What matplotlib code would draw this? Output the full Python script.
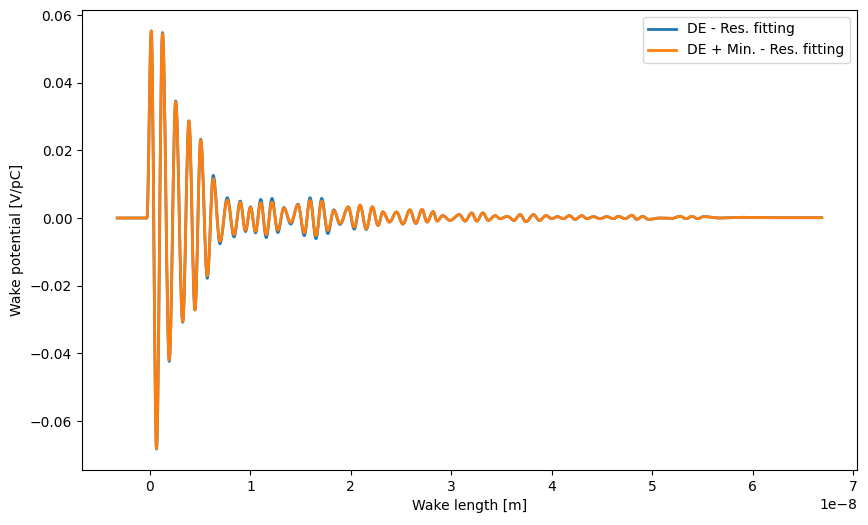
import matplotlib
matplotlib.use("Agg")
import matplotlib.pyplot as plt
from matplotlib.path import Path
from matplotlib.patches import PathPatch
from matplotlib.lines import Line2D
import numpy as np

# wake length at the turning points of the curve, in units of 1e-8 m
wake_len = [-0.326, -0.030, 0.013, 0.065, 0.125, 0.192, 0.256, 0.326, 0.388, 0.448,
            0.505, 0.571, 0.630, 0.697, 0.770, 0.837, 0.899, 0.951, 1.001, 1.051,
            1.103, 1.158, 1.215, 1.273, 1.333, 1.402, 1.474, 1.537, 1.594, 1.653,
            1.710, 1.771, 1.831, 1.892, 1.975, 2.034, 2.092, 2.154, 2.214, 2.271,
            2.319, 2.385, 2.455, 2.518, 2.588, 2.647, 2.709, 2.759, 2.819, 2.859,
            2.915, 2.988, 3.081, 3.137, 3.204, 3.254, 3.314, 3.370, 3.436, 3.486,
            3.559, 3.625, 3.685, 3.745, 3.818, 3.878, 3.944, 4.001, 4.057, 4.117,
            4.176, 4.233, 4.300, 4.350, 4.415, 4.482, 4.549, 4.615, 4.664, 4.731,
            4.798, 4.848, 4.907, 4.963, 5.080, 5.199, 5.279, 5.339, 5.395, 5.453,
            5.511, 5.677, 5.906, 6.175, 6.689]

# DE - Res. fitting  [V/pC]
wake_de = [0.0, 0.0, 0.0553, -0.0683, 0.0548, -0.0424, 0.0346, -0.0308, 0.0287, -0.0272,
           0.0233, -0.0178, 0.0126, -0.0076, 0.0060, -0.0056, 0.0050, -0.0040, 0.0033, -0.0044,
           0.0055, -0.0058, 0.0058, -0.0043, 0.0031, -0.0018, 0.0041, -0.0052, 0.0060, -0.0061,
           0.0058, -0.0046, 0.0024, -0.0019, 0.0033, -0.0033, 0.0038, -0.0034, 0.0033, -0.0022,
           0.0018, -0.0012, 0.0018, -0.0018, 0.0024, -0.0016, 0.0025, -0.0012, 0.0019, -0.0009,
           0.0007, -0.0007, 0.0010, -0.0009, 0.0015, -0.0009, 0.0015, -0.0007, 0.0007, -0.0002,
           0.0005, -0.0007, 0.0010, -0.0011, 0.0010, -0.0007, 0.0007, -0.0002, 0.0004, -0.0002,
           0.0007, -0.0004, 0.0007, -0.0002, 0.0004, -0.0002, 0.0004, -0.0002, 0.0005, -0.0002,
           0.0008, -0.0004, 0.0005, -0.0004, 0.0000, -0.0001, 0.0005, -0.0002, 0.0005, -0.0002,
           0.0004, 0.0000, 0.0002, 0.0001, 0.0001]

# DE + Min. - Res. fitting  [V/pC]
wake_de_min = [0.0, 0.0, 0.0553, -0.0682, 0.0545, -0.0420, 0.0344, -0.0306, 0.0287, -0.0272,
               0.0231, -0.0171, 0.0116, -0.0069, 0.0053, -0.0049, 0.0046, -0.0036, 0.0031, -0.0039,
               0.0045, -0.0049, 0.0047, -0.0036, 0.0029, -0.0013, 0.0039, -0.0044, 0.0052, -0.0052,
               0.0050, -0.0037, 0.0022, -0.0016, 0.0033, -0.0027, 0.0038, -0.0032, 0.0033, -0.0022,
               0.0018, -0.0012, 0.0018, -0.0018, 0.0024, -0.0016, 0.0025, -0.0012, 0.0019, -0.0009,
               0.0007, -0.0007, 0.0010, -0.0009, 0.0015, -0.0009, 0.0015, -0.0007, 0.0007, -0.0002,
               0.0005, -0.0007, 0.0010, -0.0011, 0.0010, -0.0007, 0.0007, -0.0002, 0.0004, -0.0002,
               0.0007, -0.0004, 0.0007, -0.0002, 0.0004, -0.0002, 0.0004, -0.0002, 0.0005, -0.0002,
               0.0008, -0.0004, 0.0005, -0.0004, 0.0000, -0.0001, 0.0005, -0.0002, 0.0005, -0.0002,
               0.0004, 0.0000, 0.0002, 0.0001, 0.0001]

scale = 1e-8  # wake length unit


def wake_path(t, w, k=0.36):
    # smooth connection between turning points (flat tangent at each one)
    verts = [(t[0], w[0])]
    codes = [Path.MOVETO]
    for i in range(len(t) - 1):
        dt = t[i + 1] - t[i]
        verts += [(t[i] + k * dt, w[i]), (t[i + 1] - k * dt, w[i + 1]), (t[i + 1], w[i + 1])]
        codes += [Path.CURVE4] * 3
    return Path(verts, codes)


s = np.array(wake_len) * scale

fig = plt.figure(figsize=(8.68, 5.25), dpi=100)
ax = fig.add_axes([82 / 868, 1 - 470 / 525, 775 / 868, 460 / 525])

series = [(wake_de, 'tab:blue', 'DE - Res. fitting'),
          (wake_de_min, 'tab:orange', 'DE + Min. - Res. fitting')]
handles = []
for w, c, lab in series:
    ax.add_patch(PathPatch(wake_path(s, w), fill=False, edgecolor=c, lw=2,
                           joinstyle='round', capstyle='projecting'))
    handles.append(Line2D([], [], color=c, lw=2, label=lab))

ax.autoscale_view()

ax.set_xlabel('Wake length [m]')
ax.set_ylabel('Wake potential [V/pC]')
ax.legend(handles=handles, loc='upper right')

fig.savefig('out.png', dpi=100)
